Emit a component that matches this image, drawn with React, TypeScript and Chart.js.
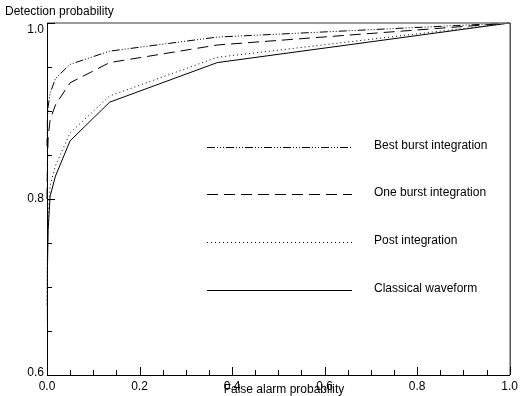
import React, { useEffect, useRef } from "react";
import { Chart, registerables } from "chart.js";

Chart.register(...registerables);

// False alarm probability (x) at which each curve is sampled
const falseAlarm = [0, 0.0009, 0.0025, 0.0067, 0.0183, 0.0498, 0.1353, 0.3679, 1];

// Detection probability for each processing method
const bestBurst = [0.86, 0.89, 0.905, 0.92, 0.937, 0.953, 0.968, 0.984, 1];
const oneBurst = [0.8, 0.84, 0.87, 0.89, 0.907, 0.932, 0.955, 0.975, 1];
const postIntegration = [0.68, 0.74, 0.78, 0.815, 0.838, 0.875, 0.917, 0.961, 1];
const classical = [0.66, 0.72, 0.765, 0.803, 0.826, 0.866, 0.91, 0.955, 1];

const seriesLabels = [
  "Best burst integration",
  "One burst integration",
  "Post integration",
  "Classical waveform",
];

const xTickLabels = [0, 0.2, 0.4, 0.6, 0.8, 1.0];
const yTickLabels = [0.6, 0.8, 1.0];
const xMinorStep = 0.05;
const yMinorStep = 0.05;

const xTitle = "False alarm probability";
const yTitle = "Detection probability";

const FONT = "'Liberation Sans', Arial, sans-serif";

const decorPlugin = {
  id: "decor",
  afterDraw(chart: any) {
    const ctx = chart.ctx;
    const area = chart.chartArea;
    const xs = chart.scales.x;
    const ys = chart.scales.y;
    ctx.save();

    // top border (grey) and right border
    ctx.strokeStyle = "#7a7a7a";
    ctx.lineWidth = 1.6;
    ctx.beginPath();
    ctx.moveTo(area.left, area.top);
    ctx.lineTo(area.right, area.top);
    ctx.stroke();
    ctx.strokeStyle = "#000";
    ctx.lineWidth = 1;
    ctx.beginPath();
    ctx.moveTo(area.right + 0.5, area.top);
    ctx.lineTo(area.right + 0.5, area.bottom);
    ctx.stroke();

    // inward ticks
    ctx.strokeStyle = "#000";
    ctx.lineWidth = 1;
    ctx.beginPath();
    for (let i = 0; i <= Math.round((xs.max - xs.min) / xMinorStep); i++) {
      const v = xs.min + i * xMinorStep;
      const isMajor = xTickLabels.some((t) => Math.abs(t - v) < 1e-6);
      const px = Math.round(xs.getPixelForValue(v)) + 0.5;
      const len = isMajor ? 8 : 5;
      ctx.moveTo(px, area.bottom);
      ctx.lineTo(px, area.bottom - len);
    }
    for (let i = 0; i <= Math.round((ys.max - ys.min) / yMinorStep); i++) {
      const v = ys.min + i * yMinorStep;
      const isMajor = yTickLabels.some((t) => Math.abs(t - v) < 1e-6);
      const py = Math.round(ys.getPixelForValue(v)) + 0.5;
      const len = isMajor ? 8 : 5;
      ctx.moveTo(area.left, py);
      ctx.lineTo(area.left + len, py);
    }
    ctx.stroke();

    ctx.fillStyle = "#000";
    ctx.font = `12px ${FONT}`;
    ctx.textBaseline = "middle";

    // y tick labels, kept inside the frame's vertical extent
    ctx.textAlign = "right";
    yTickLabels.forEach((v) => {
      const py = ys.getPixelForValue(v);
      const cy = Math.min(Math.max(py, area.top + 7), area.bottom - 2);
      ctx.fillText(v.toFixed(1), area.left - 3, cy);
    });

    // axis titles
    ctx.textAlign = "left";
    ctx.fillText(yTitle, 5, 12);
    ctx.textAlign = "center";
    ctx.fillText(xTitle, 284, 390);

    // legend inside plot
    const legendY = [147, 194, 242, 290];
    chart.data.datasets.forEach((ds: any, i: number) => {
      const y = legendY[i] + 0.5;
      ctx.strokeStyle = ds.borderColor;
      ctx.lineWidth = ds.borderWidth;
      ctx.setLineDash(ds.borderDash || []);
      ctx.beginPath();
      ctx.moveTo(207, y);
      ctx.lineTo(352, y);
      ctx.stroke();
      ctx.setLineDash([]);
      ctx.textAlign = "left";
      ctx.fillStyle = "#000";
      ctx.fillText(ds.label, 374, y - 2);
    });

    ctx.restore();
  },
};

export default function App() {
  const ref = useRef<HTMLCanvasElement | null>(null);

  useEffect(() => {
    if (!ref.current) return;
    const mk = (vals: number[]) => falseAlarm.map((x, i) => ({ x, y: vals[i] }));
    const dashes = [
      [8, 2, 1, 2, 1, 2, 1, 2],
      [11, 6],
      [1, 3],
      [],
    ];
    const series = [bestBurst, oneBurst, postIntegration, classical];
    const chart = new Chart(ref.current, {
      type: "line",
      data: {
        datasets: series.map((vals, i) => ({
          label: seriesLabels[i],
          data: mk(vals),
          borderColor: "#000",
          borderWidth: 1,
          borderDash: dashes[i],
          pointRadius: 0,
          fill: false,
          tension: 0,
          clip: 2,
        })),
      },
      options: {
        responsive: false,
        animation: false,
        events: [],
        layout: { padding: { top: 23, right: 9, left: 0, bottom: 0 } },
        plugins: {
          legend: { display: false },
          tooltip: { enabled: false },
          title: { display: false },
        },
        scales: {
          x: {
            type: "linear",
            min: 0,
            max: 1,
            afterFit: (s: any) => {
              s.height = 21;
            },
            grid: { drawOnChartArea: false, drawTicks: false },
            border: { display: true, color: "#000", width: 1 },
            ticks: {
              stepSize: 0.2,
              padding: 4,
              maxRotation: 0,
              autoSkip: false,
              color: "#000",
              font: { family: FONT, size: 12 },
              callback: (v: any) => Number(v).toFixed(1),
            },
          },
          y: {
            type: "linear",
            min: 0.6,
            max: 1.0,
            afterFit: (s: any) => {
              s.width = 47;
            },
            grid: { drawOnChartArea: false, drawTicks: false },
            border: { display: true, color: "#000", width: 1 },
            ticks: {
              stepSize: 0.2,
              display: false,
            },
          },
        },
      },
      plugins: [decorPlugin],
    });
    return () => chart.destroy();
  }, []);

  return (
    <div style={{ position: "absolute", left: 0, top: 0, width: 522, height: 396, background: "#fff" }}>
      <canvas ref={ref} width={522} height={396} />
    </div>
  );
}
